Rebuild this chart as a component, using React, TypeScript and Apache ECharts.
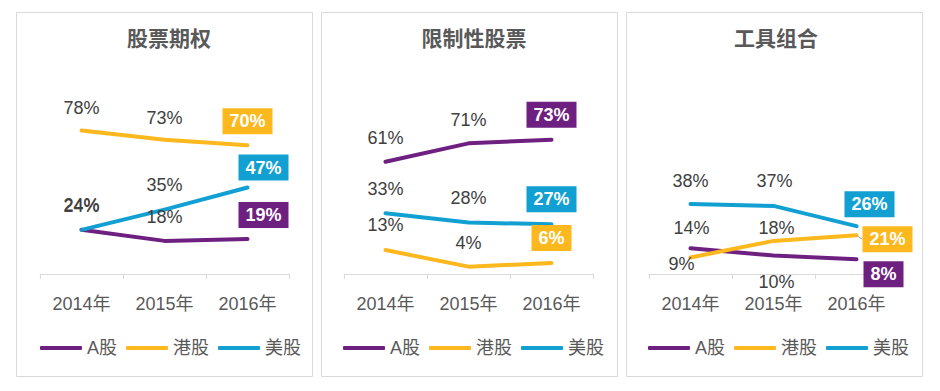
import React, { useEffect, useRef } from 'react';
import * as echarts from 'echarts';

// ---- data ----
const categories = ['2014年', '2015年', '2016年'];
const seriesNames = ['A股', '港股', '美股'];
const panelTitles = ['股票期权', '限制性股票', '工具组合'];

const optionA = [24, 18, 19];
const optionHK = [78, 73, 70];
const optionUS = [24, 35, 47];

const restrictedA = [61, 71, 73];
const restrictedHK = [13, 4, 6];
const restrictedUS = [33, 28, 27];

const comboA = [14, 10, 8];
const comboHK = [9, 18, 21];
const comboUS = [38, 37, 26];

const panelData = [
  [optionA, optionHK, optionUS],
  [restrictedA, restrictedHK, restrictedUS],
  [comboA, comboHK, comboUS],
];

// ---- styles ----
const colors = ['#6E2080', '#FDB81E', '#12A0D2'];
const FONT = '"Liberation Sans", Arial, "Noto Sans CJK SC", sans-serif';
const CJK_FONT = '"Noto Sans CJK SC", "Liberation Sans", sans-serif';
const gridLefts = [40, 344, 649];
const gridWidth = 249;
const legendLefts = [40, 343, 648];
const titleCenters = [169, 474, 776];
const boxes = [
  [16.5, 12.5],
  [321.5, 12.5],
  [626.5, 12.5],
];

// label offsets (center of label relative to the point) per panel / series / point
const labelOffsets = [
  [
    [[0, -24], [0, -24], [16, -24]],
    [[0, -22], [0, -22], [0, -24]],
    [[0, -25], [0, -25], [16, -20]],
  ],
  [
    [[0, -24], [0, -23], [0, -25]],
    [[0, -25], [0, -24], [0, -25]],
    [[0, -24], [0, -24], [0, -25]],
  ],
  [
    [[1, -20], [3, 26], [27, 15]],
    [[-9, 7], [3, -13], [31, 4]],
    [[0, -23], [1, -25], [13, -22]],
  ],
];

export default function App() {
  const ref = useRef<HTMLDivElement>(null);

  useEffect(() => {
    if (!ref.current) return;
    const chart = echarts.init(ref.current, undefined, { renderer: 'svg' });

    const grids: any[] = [];
    const xAxes: any[] = [];
    const yAxes: any[] = [];
    const series: any[] = [];
    const legends: any[] = [];
    const graphics: any[] = [];

    for (let p = 0; p < 3; p++) {
      grids.push({ left: gridLefts[p], width: gridWidth, top: 90, height: 184 });
      xAxes.push({
        type: 'category',
        gridIndex: p,
        data: categories,
        boundaryGap: true,
        axisLine: { lineStyle: { color: '#d9d9d9', width: 1 } },
        axisTick: { show: true, length: 5, lineStyle: { color: '#d9d9d9' } },
        axisLabel: { fontSize: 18, color: '#595959', margin: 21, fontFamily: FONT },
      });
      yAxes.push({ type: 'value', gridIndex: p, min: 0, max: 100, show: false, splitLine: { show: false } });

      for (let s = 0; s < 3; s++) {
        const values = panelData[p][s];
        const isLeader = p === 2 && s === 1;
        const offs = labelOffsets[p][s];
        series.push({
          type: 'line',
          name: seriesNames[s],
          xAxisIndex: p,
          yAxisIndex: p,
          symbol: 'circle',
          symbolSize: 2,
          showSymbol: true,
          lineStyle: { width: 4, color: colors[s], cap: 'round', join: 'round' },
          itemStyle: { color: colors[s] },
          label: {
            show: true,
            position: 'inside',
            formatter: '{c}%',
            fontSize: 18,
            color: '#404040',
            fontFamily: FONT,
          },
          labelLayout: isLeader
            ? (params: any) => ({ dx: offs[params.dataIndex][0], dy: offs[params.dataIndex][1] })
            : undefined,
          data: values.map((v, i) => {
            const off = isLeader ? [0, 0] : offs[i];
            if (i === 2) {
              return {
                value: v,
                label: {
                  offset: off,
                  backgroundColor: colors[s],
                  color: '#ffffff',
                  fontWeight: 'bold',
                  fontSize: 18,
                  lineHeight: 18,
                  padding: [4, 7],
                },
                labelLine: isLeader
                  ? { show: true, lineStyle: { color: '#a6a6a6', width: 1 } }
                  : undefined,
              };
            }
            return { value: v, label: { offset: off } };
          }),
        });
      }

      legends.push({
        data: seriesNames,
        left: legendLefts[p],
        top: 339,
        padding: 0,
        icon: 'roundRect',
        itemWidth: 42,
        itemHeight: 4,
        itemGap: 9,
        selectedMode: false,
        textStyle: { fontSize: 18, color: '#595959', fontFamily: FONT },
      });

      graphics.push({
        type: 'rect',
        shape: { x: boxes[p][0], y: boxes[p][1], width: 296, height: 364 },
        style: { fill: 'none', stroke: '#d9d9d9', lineWidth: 1 },
        silent: true,
        z: -1,
      });
      graphics.push({
        type: 'text',
        x: titleCenters[p],
        y: 37,
        style: {
          text: panelTitles[p],
          align: 'center',
          verticalAlign: 'middle',
          fill: '#595959',
          font: `bold 21px ${CJK_FONT}`,
        },
        silent: true,
      });
    }

    chart.setOption({
      animation: false,
      backgroundColor: '#ffffff',
      grid: grids,
      xAxis: xAxes,
      yAxis: yAxes,
      legend: legends,
      series,
      graphic: graphics,
    });

    return () => chart.dispose();
  }, []);

  return (
    <div
      ref={ref}
      style={{ position: 'absolute', left: 0, top: 0, width: 940, height: 391 }}
    />
  );
}
